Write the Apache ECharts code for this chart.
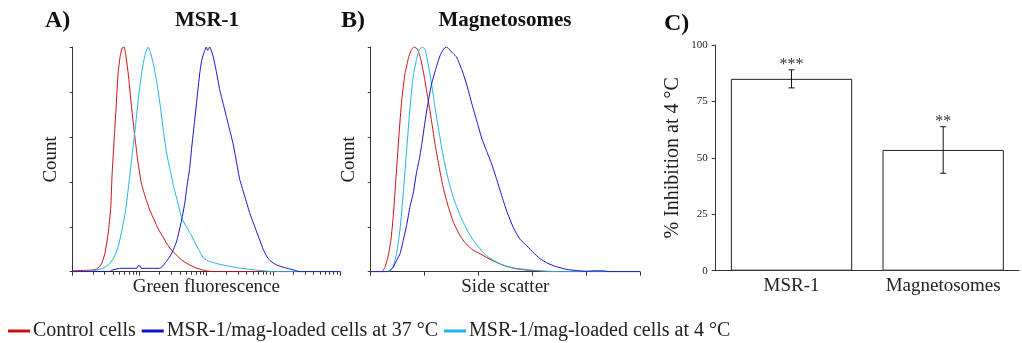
<!DOCTYPE html>
<html>
<head>
<meta charset="utf-8">
<script src="https://cdn.jsdelivr.net/npm/echarts@6/dist/echarts.min.js"></script>
<style>
  html, body { margin: 0; padding: 0; background: #fff; }
  #chart { width: 1022px; height: 343px; }
</style>
</head>
<body>
<div id="chart"></div>
<script>
// series names (shared by panels A and B)
const seriesNames = ['Control cells', 'MSR-1/mag-loaded cells at 37 \u00B0C', 'MSR-1/mag-loaded cells at 4 \u00B0C'];
const seriesColors = ['#cc1111', '#1111cc', '#1fb2e8'];

// A) green fluorescence histograms, x in decades (log10), y in % of max count
const fluoControl = [[0,0.4],[0.26,0.7],[0.36,1.2],[0.43,3.4],[0.48,7.9],[0.53,16.8],[0.57,28.8],[0.59,43.7],[0.62,58.6],[0.65,73.5],[0.68,88.4],[0.71,95.8],[0.74,99.6],[0.77,100],[0.79,97.3],[0.83,88.4],[0.88,73.5],[0.93,60],[0.98,48],[1.03,39],[1.1,32],[1.16,27],[1.22,23],[1.28,19],[1.35,15.5],[1.41,12.4],[1.48,9.6],[1.56,7.2],[1.62,5.5],[1.68,4.2],[1.77,2.7],[1.86,1.5],[2.0,0.4],[2.1,0],[4,0]];
const fluo37 = [[0,0],[0.55,0],[0.58,0.6],[0.7,1.5],[0.96,1.5],[0.98,2.6],[1.01,2.6],[1.03,1.5],[1.3,1.5],[1.35,2.6],[1.4,4.5],[1.46,7],[1.51,10],[1.56,14],[1.63,23],[1.68,31],[1.71,38],[1.75,46],[1.78,55],[1.82,66],[1.86,77],[1.9,88],[1.93,94],[1.97,98],[2.0,100],[2.02,98.5],[2.05,100],[2.1,96],[2.15,89],[2.2,81],[2.25,75],[2.3,69],[2.35,63],[2.4,57],[2.45,49],[2.5,41],[2.55,36],[2.6,31],[2.65,26],[2.7,22],[2.75,18],[2.8,14],[2.85,10],[2.9,7],[2.95,5],[3.05,3],[3.2,1.6],[3.33,0.6],[3.4,0],[4,0]];
const fluo4 = [[0,0],[0.3,0.3],[0.45,1.5],[0.55,3.5],[0.62,6.5],[0.68,11],[0.74,19],[0.79,27],[0.84,39],[0.89,52],[0.94,65],[0.99,79],[1.04,90],[1.09,97.5],[1.13,100],[1.16,98],[1.21,92],[1.26,84],[1.31,74],[1.36,62],[1.41,52],[1.46,45],[1.51,38],[1.57,31],[1.63,24],[1.7,20],[1.76,17],[1.83,13],[1.9,9],[1.96,6],[2.05,4.5],[2.2,3.3],[2.35,2.4],[2.5,1.6],[2.62,1.2],[2.75,0.7],[2.9,0.3],[3.0,0],[4,0]];
const decadeTicks = [0, 1, 2, 3, 4];
const minorMultipliers = [2, 3, 4, 5, 6, 7, 8, 9];

// B) side scatter histograms, linear channels
const sscControl = [[0,0],[41,0],[47,0.8],[53,2],[65,7],[75,14],[84,25],[94,42],[105,61],[115,76],[127,88],[140,95],[150,98.5],[161,100],[174,99],[187,94],[200,86],[214,76],[226,67],[240,56],[255,46],[270,37],[288,29],[307,22],[332,16],[350,13],[375,10],[406,8],[443,5.5],[490,3],[540,1.3],[590,0.6],[640,0.2],[660,0],[1000,0]];
const ssc37 = [[0,0],[60,0],[70,0.5],[84,2],[96,5],[109,8],[121,14],[134,21],[146,29],[158,35],[170,44],[182,51],[190,57],[202,67],[214,76],[227,84],[241,90],[257,96],[270,99],[282,100],[295,98.5],[307,97],[319,95.5],[338,90],[356,83.5],[375,75],[394,67],[412,59.5],[431,53.5],[449,48],[468,41],[486,34],[505,27],[530,19.5],[554,14.5],[580,11.5],[604,8.5],[629,5.8],[653,4],[678,2.7],[703,1.8],[728,1],[765,0.5],[800,0.2],[830,0.4],[860,0.4],[890,0],[1000,0]];
const ssc4 = [[0,0],[60,0],[72,0.3],[84,2.5],[96,8],[109,19],[121,35],[134,55],[146,73],[158,87],[171,95],[181,99],[192,100],[202,99],[214,92],[227,83],[239,73],[254,62],[270,51],[288,41],[307,33],[332,25],[356,19],[381,14],[418,8.5],[443,6],[480,3.5],[517,1.9],[554,1.3],[600,0.7],[640,0.3],[700,0],[1000,0]];

// C) % inhibition at 4 °C
const categories = ['MSR-1', 'Magnetosomes'];
const inhibitionMean = [85, 53.5];
const inhibitionLow = [81, 43.2];
const inhibitionHigh = [89, 63.8];
const significance = ['***', '**'];

const FONT = '"Liberation Serif", "DejaVu Serif", serif';
const AXIS = '#333';

const minorTicks = [];
decadeTicks.slice(0, -1).forEach(d => minorMultipliers.forEach(k => minorTicks.push(d + Math.log10(k))));

function histSeries(name, color, data, xi, yi) {
  return {
    name: name, type: 'line', data: data, xAxisIndex: xi, yAxisIndex: yi,
    showSymbol: false, symbol: 'none', smooth: 0.15,
    lineStyle: { color: color, width: 1 }, itemStyle: { color: color }
  };
}

function countAxis(grid) {
  return {
    type: 'value', gridIndex: grid, min: 0, max: 100, interval: 20,
    name: 'Count', nameLocation: 'middle', nameGap: 12,
    nameTextStyle: { fontFamily: FONT, fontSize: 19, color: '#222' },
    axisLine: { show: true, lineStyle: { color: AXIS, width: 1 } },
    axisTick: { show: true, length: 3, lineStyle: { color: AXIS } },
    axisLabel: { show: false }, splitLine: { show: false }
  };
}

const chart = echarts.init(document.getElementById('chart'));

const errData = categories.map((c, i) => [i, inhibitionLow[i], inhibitionHigh[i], significance[i]]);
const titleStyle = { fontFamily: FONT, fontSize: 21, fontWeight: 'bold', color: '#111' };
const panelStyle = { fontFamily: FONT, fontSize: 24, fontWeight: 'bold', color: '#111' };

chart.setOption({
  animation: false,
  title: [
    { text: 'A)', left: 40, top: 4, textStyle: panelStyle },
    { text: 'MSR-1', left: 202, top: 5, textAlign: 'center', textStyle: titleStyle },
    { text: 'B)', left: 336, top: 4, textStyle: panelStyle },
    { text: 'Magnetosomes', left: 500, top: 5, textAlign: 'center', textStyle: titleStyle },
    { text: 'C)', left: 659, top: 7, textStyle: panelStyle }
  ],
  legend: {
    left: 3, top: 316, icon: 'rect', itemWidth: 22, itemHeight: 3, itemGap: 6,
    data: seriesNames,
    textStyle: { fontFamily: FONT, fontSize: 20, color: '#222', padding: [0, 0, 0, -2] }
  },
  grid: [
    { left: 72.7, top: 47, width: 267.3, height: 224.7 },
    { left: 370.7, top: 47, width: 269.3, height: 224.7 },
    { left: 715.7, top: 45, width: 303.3, height: 225.7 }
  ],
  xAxis: [
    {
      type: 'value', gridIndex: 0, min: 0, max: 4, interval: 1,
      name: 'Green fluorescence', nameLocation: 'middle', nameGap: 6,
      nameTextStyle: { fontFamily: FONT, fontSize: 19, color: '#222', verticalAlign: 'top' },
      axisLine: { lineStyle: { color: AXIS } },
      axisTick: { length: 4, lineStyle: { color: AXIS } },
      axisLabel: { show: false }, splitLine: { show: false }
    },
    {
      type: 'value', gridIndex: 0, position: 'bottom', min: 0, max: 4,
      axisLine: { show: false },
      axisTick: { show: true, length: 3, customValues: minorTicks, lineStyle: { color: AXIS } },
      axisLabel: { show: false }, splitLine: { show: false }
    },
    {
      type: 'value', gridIndex: 1, min: 0, max: 1000, interval: 200,
      name: 'Side scatter', nameLocation: 'middle', nameGap: 6,
      nameTextStyle: { fontFamily: FONT, fontSize: 19, color: '#222', verticalAlign: 'top' },
      axisLine: { lineStyle: { color: AXIS } },
      axisTick: { length: 4, lineStyle: { color: AXIS } },
      axisLabel: { show: false }, splitLine: { show: false }
    },
    {
      type: 'category', gridIndex: 2, data: categories,
      axisLine: { lineStyle: { color: AXIS } },
      axisTick: { length: 6, lineStyle: { color: AXIS } },
      axisLabel: { fontFamily: FONT, fontSize: 19, color: '#222', margin: 6 }
    }
  ],
  yAxis: [
    countAxis(0),
    countAxis(1),
    {
      type: 'value', gridIndex: 2, min: 0, max: 100, interval: 25,
      name: '% Inhibition at 4 \u00B0C', nameLocation: 'middle', nameGap: 33,
      nameTextStyle: { fontFamily: FONT, fontSize: 20, color: '#222' },
      axisLine: { show: true, lineStyle: { color: AXIS } },
      axisTick: { show: true, length: 4, lineStyle: { color: AXIS } },
      axisLabel: { fontFamily: FONT, fontSize: 11, color: '#222', margin: 8 },
      splitLine: { show: false }
    }
  ],
  series: [
    histSeries(seriesNames[0], seriesColors[0], fluoControl, 0, 0),
    histSeries(seriesNames[2], seriesColors[2], fluo4, 0, 0),
    histSeries(seriesNames[1], seriesColors[1], fluo37, 0, 0),
    histSeries(seriesNames[0], seriesColors[0], sscControl, 2, 1),
    histSeries(seriesNames[2], seriesColors[2], ssc4, 2, 1),
    histSeries(seriesNames[1], seriesColors[1], ssc37, 2, 1),
    {
      type: 'bar', xAxisIndex: 3, yAxisIndex: 2, data: inhibitionMean, barWidth: '80%',
      itemStyle: { color: '#fff', borderColor: '#222', borderWidth: 1 }
    },
    {
      type: 'custom', xAxisIndex: 3, yAxisIndex: 2, data: errData,
      encode: { x: 0, y: [1, 2] }, z: 10,
      renderItem: function (params, api) {
        const lo = api.coord([api.value(0), api.value(1)]);
        const hi = api.coord([api.value(0), api.value(2)]);
        const cap = 3;
        const st = { stroke: '#111', lineWidth: 1 };
        return {
          type: 'group',
          children: [
            { type: 'line', shape: { x1: hi[0], y1: hi[1], x2: lo[0], y2: lo[1] }, style: st },
            { type: 'line', shape: { x1: hi[0] - cap, y1: hi[1], x2: hi[0] + cap, y2: hi[1] }, style: st },
            { type: 'line', shape: { x1: lo[0] - cap, y1: lo[1], x2: lo[0] + cap, y2: lo[1] }, style: st },
            { type: 'text', style: { text: errData[params.dataIndex][3], x: hi[0], y: hi[1] - 5, textAlign: 'center', textVerticalAlign: 'middle', fontFamily: FONT, fontSize: 16, fill: '#333' } }
          ]
        };
      }
    }
  ]
});
</script>
</body>
</html>
